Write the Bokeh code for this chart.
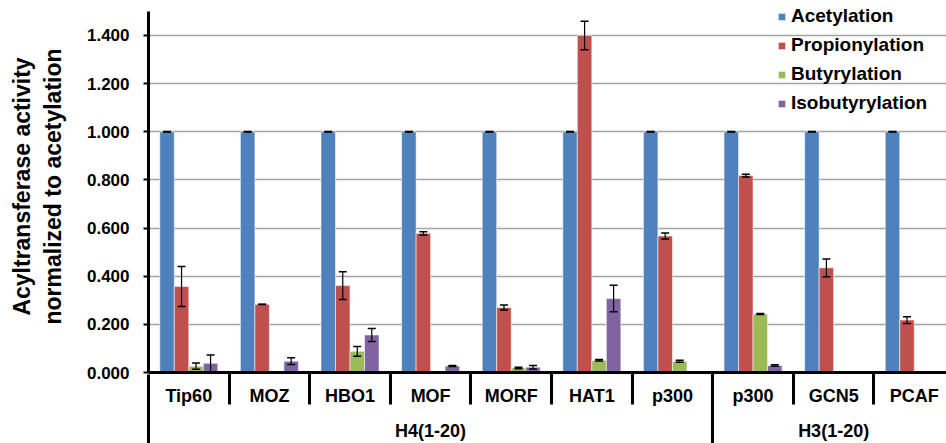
from bokeh.plotting import figure
from bokeh.models import (Range1d, FixedTicker, LinearAxis, Whisker, TeeHead, ColumnDataSource,
                          Legend, LegendItem, PrintfTickFormatter)
from bokeh.embed import file_html
from bokeh.resources import INLINE

categories = ["Tip60", "MOZ", "HBO1", "MOF", "MORF", "HAT1", "p300", "p300", "GCN5", "PCAF"]
groups = ["H4(1-20)", "H3(1-20)"]
group_sizes = [7, 3]
series = ["Acetylation", "Propionylation", "Butyrylation", "Isobutyrylation"]
colors = ["#4F81BD", "#C0504D", "#9BBB59", "#8064A2"]

acetylation = [1.0, 1.0, 1.0, 1.0, 1.0, 1.0, 1.0, 1.0, 1.0, 1.0]
acetylation_err = [0.001, 0.001, 0.001, 0.001, 0.001, 0.001, 0.001, 0.001, 0.001, 0.001]
propionylation = [0.357, 0.283, 0.361, 0.578, 0.270, 1.400, 0.567, 0.818, 0.435, 0.218]
propionylation_err = [0.083, 0.001, 0.058, 0.007, 0.010, 0.059, 0.012, 0.006, 0.037, 0.014]
butyrylation = [0.026, 0.0, 0.088, 0.002, 0.019, 0.051, 0.047, 0.243, 0.002, 0.002]
butyrylation_err = [0.013, 0.0, 0.020, 0.001, 0.003, 0.003, 0.004, 0.002, 0.001, 0.001]
isobutyrylation = [0.038, 0.047, 0.156, 0.027, 0.022, 0.307, 0.002, 0.029, 0.0, 0.0]
isobutyrylation_err = [0.035, 0.014, 0.027, 0.002, 0.007, 0.055, 0.001, 0.003, 0.0, 0.0]

values = [acetylation, propionylation, butyrylation, isobutyrylation]
errors = [acetylation_err, propionylation_err, butyrylation_err, isobutyrylation_err]
y_ticks = [0.0, 0.2, 0.4, 0.6, 0.8, 1.0, 1.2, 1.4]

FONT = "Liberation Sans"
n = len(categories)

p = figure(width=946, height=443, output_backend="svg", toolbar_location=None,
           x_range=Range1d(0, 9.9), y_range=Range1d(0, 1.5 * 375 / 364),
           min_border_left=148, min_border_right=0, min_border_top=0, min_border_bottom=68,
           x_axis_location=None)
p.outline_line_color = None
p.background_fill_color = "white"
p.border_fill_color = "white"
p.xgrid.visible = False

# y axis
p.yaxis.ticker = FixedTicker(ticks=y_ticks, minor_ticks=[])
p.yaxis.bounds = (0, 1.5)
p.yaxis.formatter = PrintfTickFormatter(format="%.3f")
p.yaxis.axis_line_width = 3
p.yaxis.axis_line_color = "black"
p.yaxis.major_tick_out = 5
p.yaxis.major_tick_in = 0
p.yaxis.major_tick_line_width = 2
p.yaxis.major_tick_line_color = "black"
p.yaxis.minor_tick_line_color = None
p.yaxis.major_label_text_font = FONT
p.yaxis.major_label_text_font_style = "bold"
p.yaxis.major_label_text_font_size = "17px"
p.yaxis.major_label_text_color = "black"
p.yaxis.major_label_standoff = 14
p.yaxis.axis_label = "Acyltransferase activity\nnormalized to acetylation"
p.yaxis.axis_label_text_font = FONT
p.yaxis.axis_label_text_font_style = "bold"
p.yaxis.axis_label_text_font_size = "23px"
p.yaxis.axis_label_text_color = "black"
p.yaxis.axis_label_standoff = 18
p.ygrid.ticker = FixedTicker(ticks=y_ticks[1:])
p.ygrid.grid_line_color = "#A3A3A3"
p.ygrid.grid_line_width = 1.5

# category axis
centers = [i + 0.5 for i in range(n)]
ax1 = LinearAxis(ticker=FixedTicker(ticks=centers, minor_ticks=list(range(1, n))))
ax1.major_label_overrides = {c: lab for c, lab in zip(centers, categories)}
ax1.axis_line_width = 3
ax1.axis_line_color = "black"
ax1.major_tick_line_color = None
ax1.major_tick_out = 0
ax1.major_tick_in = 0
ax1.minor_tick_out = 32
ax1.minor_tick_in = 0
ax1.minor_tick_line_width = 3
ax1.minor_tick_line_color = "black"
ax1.major_label_standoff = -19
ax1.major_label_text_font = FONT
ax1.major_label_text_font_style = "bold"
ax1.major_label_text_font_size = "18px"
ax1.major_label_text_color = "black"
p.add_layout(ax1, "below")

# group axis
bounds = [0]
for s in group_sizes:
    bounds.append(bounds[-1] + s)
gcenters = [(bounds[k] + bounds[k + 1]) / 2 for k in range(len(groups))]
ax2 = LinearAxis(ticker=FixedTicker(ticks=gcenters, minor_ticks=bounds[:-1]))
ax2.major_label_overrides = {c: g for c, g in zip(gcenters, groups)}
ax2.axis_line_color = None
ax2.major_tick_line_color = None
ax2.major_tick_out = 0
ax2.major_tick_in = 0
ax2.minor_tick_in = 34
ax2.minor_tick_out = 36
ax2.minor_tick_line_width = 3
ax2.minor_tick_line_color = "black"
ax2.major_label_standoff = -24
ax2.major_label_text_font = FONT
ax2.major_label_text_font_style = "bold"
ax2.major_label_text_font_size = "18px"
ax2.major_label_text_color = "black"
p.add_layout(ax2, "below")

# bars
bw = 0.18
items = []
for j, (name, col) in enumerate(zip(series, colors)):
    xs = [i + 0.23 + bw * j for i in range(n)]
    src = ColumnDataSource(dict(x=xs, top=values[j],
                                upper=[v + e for v, e in zip(values[j], errors[j])],
                                lower=[v - e for v, e in zip(values[j], errors[j])]))
    r = p.vbar(x="x", top="top", width=bw, source=src, fill_color=col,
               line_color="white", line_alpha=0.55, line_width=1)
    w = Whisker(base="x", upper="upper", lower="lower", source=src, level="annotation",
                line_color="black", line_width=1.2,
                upper_head=TeeHead(size=8, line_color="black", line_width=1.5),
                lower_head=TeeHead(size=8, line_color="black", line_width=1.5))
    p.add_layout(w)
    items.append(LegendItem(label=name, renderers=[r]))

legend = Legend(items=items, location=(629, 258), orientation="vertical",
                background_fill_alpha=0, border_line_color=None,
                padding=0, margin=0, spacing=7,
                glyph_width=9, glyph_height=9, label_height=20, label_standoff=5,
                label_text_font=FONT, label_text_font_style="bold",
                label_text_font_size="19px", label_text_color="black")
p.add_layout(legend, "center")

open("out.html", "w").write(file_html(p, INLINE))
